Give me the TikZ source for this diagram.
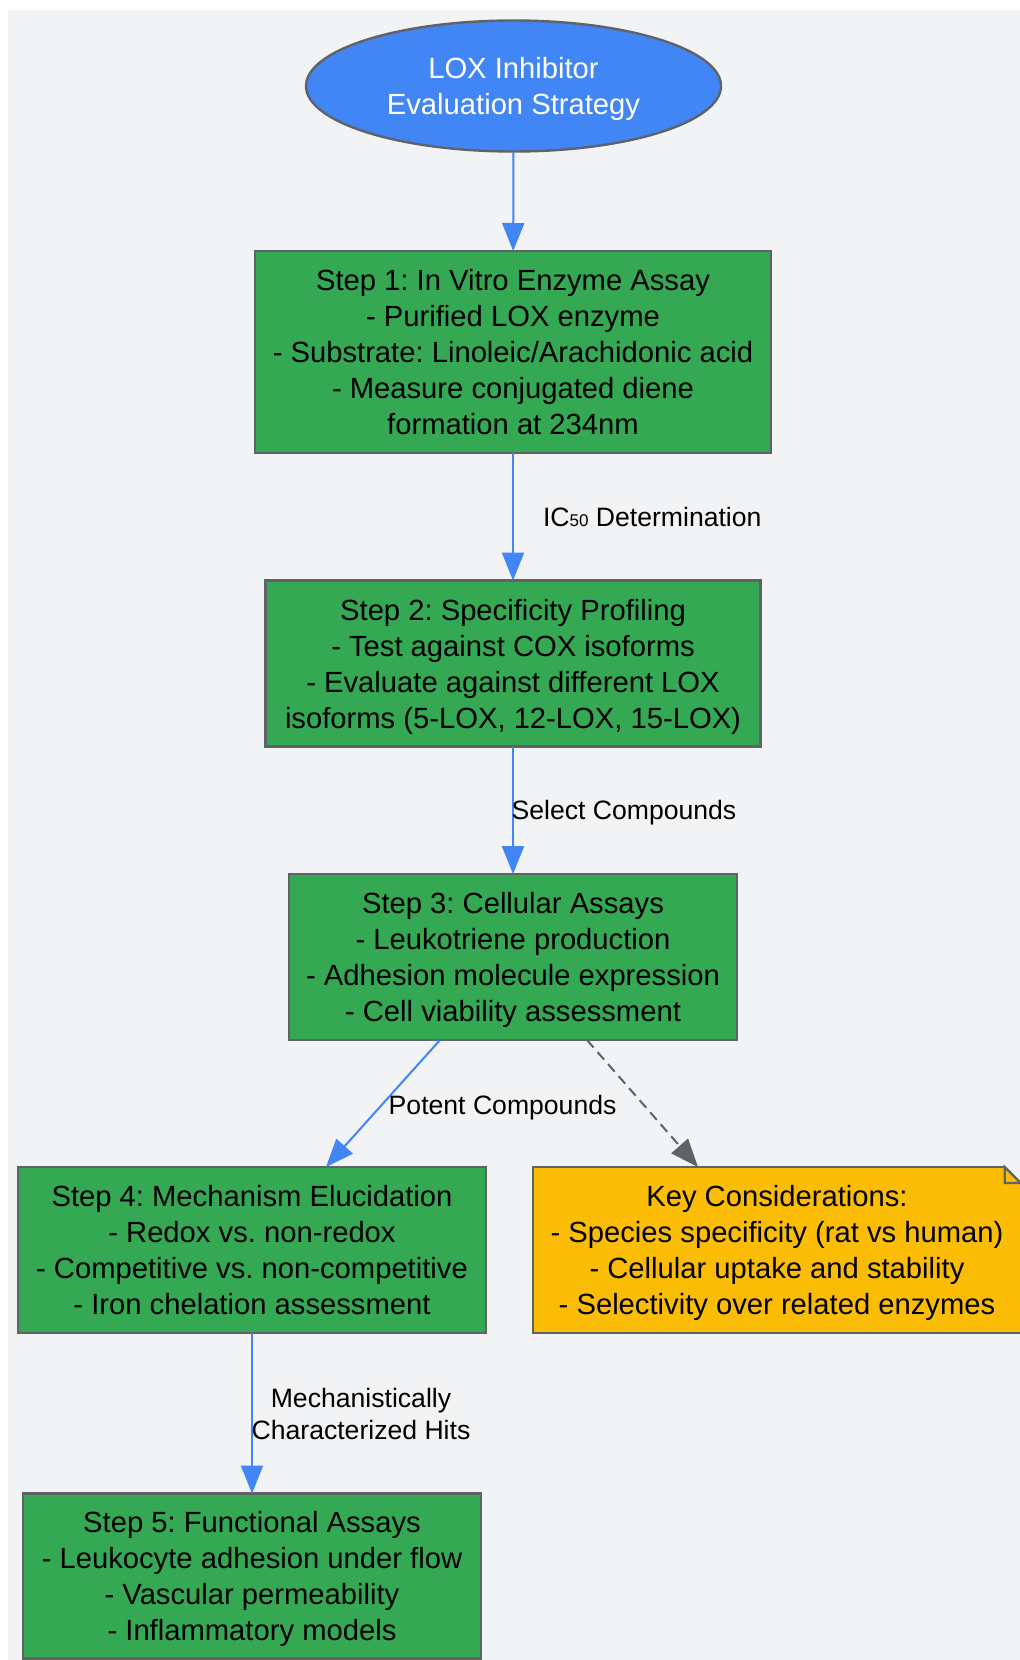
\documentclass[tikz,border=0pt]{standalone}
\usepackage{fontspec}
\setmainfont{Liberation Sans}
\usetikzlibrary{shapes.geometric,arrows.meta}
\definecolor{bgc}{HTML}{F1F3F4}
\definecolor{startc}{HTML}{4285F4}
\definecolor{stepc}{HTML}{34A853}
\definecolor{notec}{HTML}{FBBC05}
\definecolor{linec}{HTML}{5F6368}
\frenchspacing
\begin{document}
\begin{tikzpicture}[x=0.5pt, y=-0.5pt,
  every node/.style={font=\fontsize{14.6}{18}\selectfont, align=center, inner sep=0pt, outer sep=0pt, text depth=0pt},
  start/.style={ellipse, draw=linec, line width=1.2pt, fill=startc, text=white, minimum width=207.5pt, minimum height=65.5pt},
  stepbox/.style={rectangle, draw=linec, line width=1.2pt, fill=stepc, minimum height=83pt},
  notebox/.style={rectangle, draw=linec, line width=1.2pt, fill=notec, minimum height=83pt},
  flow/.style={draw=startc, line width=1pt, -{Triangle[length=14pt,width=11pt]}},
  hint/.style={draw=linec, line width=1pt, dash pattern=on 5pt off 3pt, -{Triangle[length=14pt,width=11pt]}},
  edgelabel/.style={font=\fontsize{13.3}{15.9}\selectfont}]
\useasboundingbox (0,0) rectangle (1020,1660);
\fill[bgc] (8,10) rectangle (1030,1670);

\node[start] (n0) at (513.5, 86) {LOX Inhibitor\\Evaluation Strategy};

\node[stepbox, minimum width=258pt, minimum height=101pt] (n1) at (513, 352) {Step 1: In Vitro Enzyme Assay\\- Purified LOX enzyme\\- Substrate: Linoleic/Arachidonic acid\\- Measure conjugated diene\\formation at 234nm};
\node[stepbox, minimum width=247.5pt] (n2) at (513, 663.5) {Step 2: Specificity Profiling\\- Test against COX isoforms\\- Evaluate against different LOX\\isoforms (5-LOX, 12-LOX, 15-LOX)};
\node[stepbox, minimum width=224pt] (n3) at (513, 957) {Step 3: Cellular Assays\\- Leukotriene production\\- Adhesion molecule expression\\- Cell viability assessment};

\node[stepbox, minimum width=234pt] (n4) at (252, 1250) {Step 4: Mechanism Elucidation\\- Redox vs. non-redox\\- Competitive vs. non-competitive\\- Iron chelation assessment};
\node[notebox, minimum width=243.75pt] (nk) at (777, 1250) {Key Considerations:\\- Species specificity (rat vs human)\\- Cellular uptake and stability\\- Selectivity over related enzymes};
\fill[bgc] ([xshift=-8pt,yshift=1pt]nk.north east) -- ([xshift=1pt,yshift=1pt]nk.north east) -- ([xshift=1pt,yshift=-8pt]nk.north east) -- ([yshift=-8pt]nk.north east) -- ([xshift=-8pt]nk.north east) -- cycle;
\draw[linec, line width=1.2pt, fill=notec] ([xshift=-8pt]nk.north east) -- ([xshift=-8pt,yshift=-8pt]nk.north east) -- ([yshift=-8pt]nk.north east) -- cycle;

\node[stepbox, minimum width=229pt, minimum height=82.5pt] (n5) at (252, 1576) {Step 5: Functional Assays\\- Leukocyte adhesion under flow\\- Vascular permeability\\- Inflammatory models};

\draw[flow] (n0) -- (n1);
\draw[flow] (n1) -- (n2);
\draw[flow] (n2) -- (n3);
\draw[flow] ([xshift=-36.5pt]n3.south) -- ([xshift=37pt]n4.north);
\draw[hint] ([xshift=37pt]n3.south) -- ([xshift=-39.5pt]nk.north);
\draw[flow] (n4) -- (n5);

\node[edgelabel, anchor=west] (l12) at (543, 517) {IC{\fontsize{8.5}{8.5}\selectfont 50} Determination};
\node[edgelabel, anchor=west] (l23) at (511.6, 810) {Select Compounds};
\node[edgelabel] (l34) at (502.6, 1105) {Potent Compounds};
\node[edgelabel] (l45) at (361, 1414) {Mechanistically\\Characterized Hits};
\end{tikzpicture}
\end{document}
